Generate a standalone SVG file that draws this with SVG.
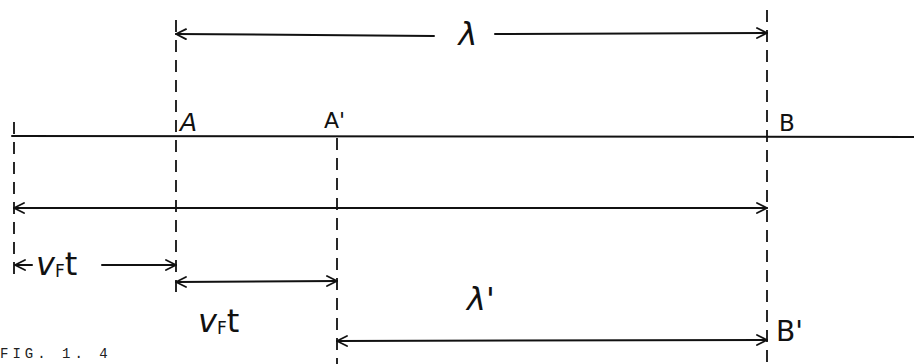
<svg xmlns="http://www.w3.org/2000/svg" width="914" height="364" viewBox="0 0 914 364">
<style>
.ln{stroke:#111;stroke-width:2;fill:none;stroke-linecap:round}
.dash{stroke:#111;stroke-width:1.8;fill:none;stroke-dasharray:12 8}
.lbl{font-family:"DejaVu Sans","Liberation Sans",sans-serif;fill:#111}
.it{font-style:italic}
.fig{font-family:"Liberation Mono","DejaVu Sans Mono",monospace;fill:#222;font-size:14px;letter-spacing:4px}
</style>
<defs>
<marker id="ah" viewBox="0 0 12 12" refX="11" refY="6" markerWidth="12" markerHeight="12" markerUnits="userSpaceOnUse" orient="auto-start-reverse">
<path d="M1 1 L11 6 L1 11" fill="none" stroke="#111" stroke-width="1.8" stroke-linecap="round" stroke-linejoin="round"/>
</marker>
</defs>
<rect width="914" height="364" fill="#fff"/>
<g id="connectors">
<line class="ln" x1="12" y1="136" x2="914" y2="137"/>
<line class="dash" x1="14" y1="122" x2="14" y2="274"/>
<line class="dash" x1="176" y1="20" x2="176" y2="296"/>
<line class="dash" x1="337" y1="138" x2="337" y2="364"/>
<line class="dash" x1="767" y1="10" x2="767" y2="364"/>
<line class="ln" x1="176" y1="34" x2="434" y2="36" marker-start="url(#ah)"/>
<line class="ln" x1="495" y1="34" x2="767" y2="33" marker-end="url(#ah)"/>
<line class="ln" x1="14" y1="208" x2="767" y2="208" marker-start="url(#ah)" marker-end="url(#ah)"/>
<line class="ln" x1="15" y1="265" x2="32" y2="265" marker-start="url(#ah)"/>
<line class="ln" x1="102" y1="265" x2="176" y2="265" marker-end="url(#ah)"/>
<line class="ln" x1="176" y1="282" x2="337" y2="281" marker-start="url(#ah)" marker-end="url(#ah)"/>
<line class="ln" x1="337" y1="341" x2="767" y2="340" marker-start="url(#ah)" marker-end="url(#ah)"/>
</g>
<g id="lambda"><text class="lbl it" x="468" y="45" font-size="32" text-anchor="middle">λ</text></g>
<g id="A"><text class="lbl it" x="180" y="131" font-size="25">A</text></g>
<g id="Aprime"><text class="lbl" x="324" y="128" font-size="22">A'</text></g>
<g id="B"><text class="lbl" x="779" y="131" font-size="23">B</text></g>
<g id="vFt1"><text class="lbl it" x="36" y="275" font-size="32">v<tspan font-size="17" dy="2" font-style="normal">F</tspan><tspan dy="-2" font-style="normal">t</tspan></text></g>
<g id="vFt2"><text class="lbl it" x="198" y="332" font-size="32">v<tspan font-size="17" dy="2" font-style="normal">F</tspan><tspan dy="-2" font-style="normal">t</tspan></text></g>
<g id="lambdaprime"><text class="lbl it" x="467" y="310" font-size="32">λ'</text></g>
<g id="Bprime"><text class="lbl" x="776" y="341" font-size="28">B'</text></g>
<g id="caption"><text class="fig" x="0" y="358">FIG. 1. 4</text></g>
</svg>
